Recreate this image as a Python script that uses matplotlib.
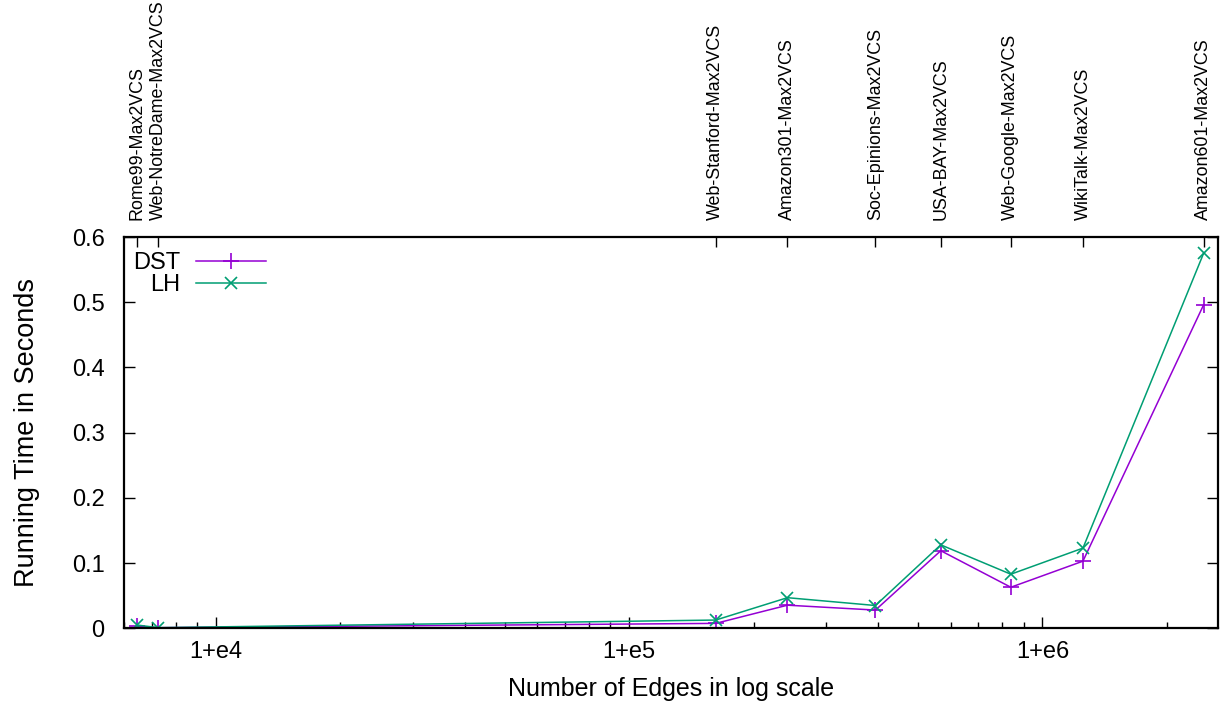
import numpy as np
import matplotlib
matplotlib.use("Agg")
import matplotlib.pyplot as plt
from matplotlib.ticker import FixedLocator, LogLocator, NullFormatter

plt.rcParams["font.family"] = ["Liberation Sans", "DejaVu Sans"]

# 그래프 이름 (위쪽 축 라벨)
graphs = ["Rome99-Max2VCS", "Web-NotreDame-Max2VCS", "Web-Stanford-Max2VCS",
          "Amazon301-Max2VCS", "Soc-Epinions-Max2VCS", "USA-BAY-Max2VCS",
          "Web-Google-Max2VCS", "WikiTalk-Max2VCS", "Amazon601-Max2VCS"]
# 간선 수
edges = [6460, 7270, 162000, 241600, 394500, 567600, 838500, 1253000, 2454000]
# 실행 시간 (초)
dst = [0.003, 0.001, 0.0076, 0.0355, 0.028, 0.119, 0.063, 0.103, 0.496]
lh = [0.005, 0.001, 0.0127, 0.047, 0.035, 0.128, 0.083, 0.123, 0.575]

x_major = [1e4, 1e5, 1e6]
x_major_labels = ["1+e4", "1+e5", "1+e6"]
y_ticks = [0, 0.1, 0.2, 0.3, 0.4, 0.5, 0.6]
y_tick_labels = ["0", "0.1", "0.2", "0.3", "0.4", "0.5", "0.6"]

fig = plt.figure(figsize=(12.23, 7.06), dpi=100)
ax = fig.add_axes([0.1014, 0.110, 0.8943, 0.5543])

ax.plot(edges, dst, color="#9400d3", lw=1.1, marker="+", ms=11, mew=1.2, label="DST")
ax.plot(edges, lh, color="#009e73", lw=1.1, marker="x", ms=9, mew=1.2, label="LH")

ax.set_xscale("log")
ax.set_xlim(6000, 2.655e6)
ax.set_ylim(0, 0.6)

ax.xaxis.set_major_locator(FixedLocator(x_major))
ax.set_xticklabels(x_major_labels)
ax.xaxis.set_minor_locator(LogLocator(base=10, subs=np.arange(2, 10)))
ax.xaxis.set_minor_formatter(NullFormatter())
ax.set_yticks(y_ticks)
ax.set_yticklabels(y_tick_labels)

ax.tick_params(which="both", direction="in", top=True, right=True, labelsize=17, width=1.0)
ax.tick_params(which="major", length=8)
ax.tick_params(which="minor", length=4.5)
ax.tick_params(axis="x", pad=9)
ax.tick_params(axis="y", pad=14)
for s in ax.spines.values():
    s.set_linewidth(1.6)

ax.set_xlabel("Number of Edges in log scale", fontsize=18, labelpad=10)
ax.set_ylabel("Running Time in Seconds", fontsize=19.5, labelpad=23)

# 위쪽 축: 데이터 위치에 그래프 이름
ax2 = ax.twiny()
ax2.set_xscale("log")
ax2.set_xlim(ax.get_xlim())
ax2.set_xticks(edges)
ax2.set_xticklabels(graphs, rotation=90, fontsize=12.9)
ax2.xaxis.set_minor_locator(FixedLocator([]))
ax2.tick_params(axis="x", direction="in", length=7, width=1.0, pad=12)
for s in ax2.spines.values():
    s.set_visible(False)

leg = ax.legend(loc="upper left", bbox_to_anchor=(0.0, 0.985), frameon=False,
                markerfirst=False, fontsize=17, handlelength=2.95,
                handletextpad=0.65, labelspacing=0.0, borderaxespad=0.2, borderpad=0.2)

fig.savefig("out.png", dpi=100)
